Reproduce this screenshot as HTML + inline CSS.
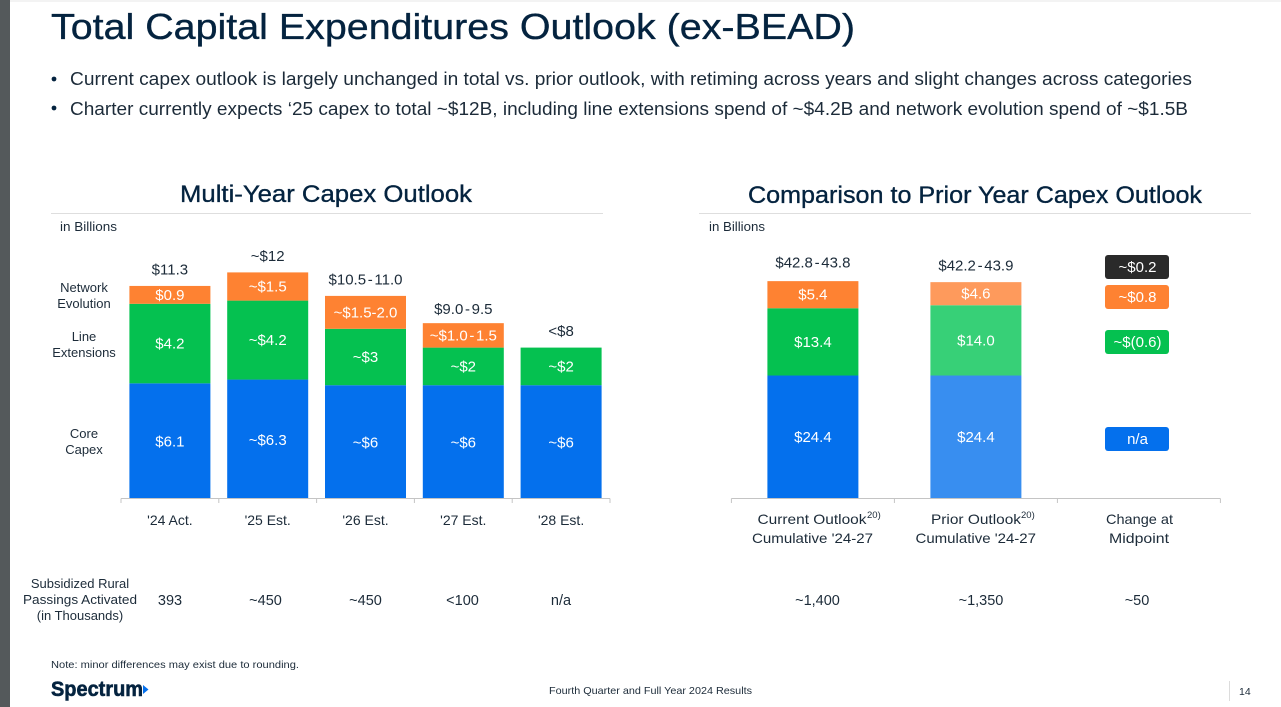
<!DOCTYPE html>
<html lang="en">
<head>
<meta charset="utf-8">
<title>Total Capital Expenditures Outlook (ex-BEAD)</title>
<style>
html,body{margin:0;padding:0;background:#fff;width:1281px;height:707px;overflow:hidden}
svg{display:block;font-family:"Liberation Sans",sans-serif}
text{fill:#1c2b39}
.navy{fill:#04233f;stroke:#04233f;stroke-width:.35px}
.logo{fill:#04233f;stroke:#04233f;stroke-width:.6px}
</style>
</head>
<body>
<svg id="slide" xmlns="http://www.w3.org/2000/svg" width="1281" height="707" viewBox="0 0 1281 707">
  <rect x="0" y="0" width="1281" height="2" fill="#f3f3f3"/>
  <rect x="0" y="0" width="10" height="707" fill="#54595b"/>

  <text class="navy" x="51" y="39" font-size="36" textLength="804" lengthAdjust="spacingAndGlyphs">Total Capital Expenditures Outlook (ex-BEAD)</text>

  <circle cx="54" cy="79" r="2.4" fill="#04233f"/>
  <text x="70" y="85" font-size="18" textLength="1122" lengthAdjust="spacingAndGlyphs">Current capex outlook is largely unchanged in total vs. prior outlook, with retiming across years and slight changes across categories</text>
  <circle cx="54" cy="108" r="2.4" fill="#04233f"/>
  <text x="70" y="115" font-size="18" textLength="1118" lengthAdjust="spacingAndGlyphs">Charter currently expects ‘25 capex to total ~$12B, including line extensions spend of ~$4.2B and network evolution spend of ~$1.5B</text>

  <text class="navy" x="180" y="202" font-size="24" textLength="292" lengthAdjust="spacingAndGlyphs">Multi-Year Capex Outlook</text>
  <rect x="51" y="213" width="552" height="1" fill="#dedede"/>
  <text x="60" y="231" font-size="13" textLength="57" lengthAdjust="spacingAndGlyphs">in Billions</text>

  <text class="navy" x="748" y="203" font-size="24" textLength="454" lengthAdjust="spacingAndGlyphs">Comparison to Prior Year Capex Outlook</text>
  <rect x="699" y="213" width="552" height="1" fill="#dedede"/>
  <text x="709" y="231" font-size="13" textLength="56" lengthAdjust="spacingAndGlyphs">in Billions</text>

  <g font-size="13" text-anchor="middle">
    <text x="84" y="292">Network</text>
    <text x="84" y="308">Evolution</text>
    <text x="84" y="341">Line</text>
    <text x="84" y="357">Extensions</text>
    <text x="84" y="438">Core</text>
    <text x="84" y="454">Capex</text>
  </g>

  <g id="left-chart"></g>
  <g id="right-chart"></g>

  <g font-size="14">
    <text x="757.5" y="524" textLength="109" lengthAdjust="spacingAndGlyphs">Current Outlook</text>
    <text x="867" y="518" font-size="9.5">20)</text>
    <text x="752" y="543" textLength="121" lengthAdjust="spacingAndGlyphs">Cumulative '24-27</text>
    <text x="931" y="524" textLength="90" lengthAdjust="spacingAndGlyphs">Prior Outlook</text>
    <text x="1021" y="518" font-size="9.5">20)</text>
    <text x="915.5" y="543" textLength="120.5" lengthAdjust="spacingAndGlyphs">Cumulative '24-27</text>
    <text x="1106" y="524" textLength="67" lengthAdjust="spacingAndGlyphs">Change at</text>
    <text x="1109" y="543" textLength="60" lengthAdjust="spacingAndGlyphs">Midpoint</text>
  </g>

  <g font-size="15" text-anchor="middle">
    <rect x="1105" y="255" width="64" height="24" rx="3" fill="#2a2a2a"/>
    <text x="1137.5" y="272" style="fill:#fff">~$0.2</text>
    <rect x="1105" y="285" width="64" height="24" rx="3" fill="#fe8232"/>
    <text x="1137.5" y="302" style="fill:#fff">~$0.8</text>
    <rect x="1105" y="330" width="64" height="24" rx="3" fill="#05c150"/>
    <text x="1137.5" y="347" style="fill:#fff">~$(0.6)</text>
    <rect x="1105" y="427" width="64" height="24" rx="3" fill="#0470ed"/>
    <text x="1137.5" y="444" style="fill:#fff">n/a</text>
  </g>

  <g font-size="13" text-anchor="middle">
    <text x="80" y="588">Subsidized Rural</text>
    <text x="80" y="604" textLength="114" lengthAdjust="spacingAndGlyphs">Passings Activated</text>
    <text x="80" y="620">(in Thousands)</text>
    <g font-size="14.5">
      <text x="170" y="605">393</text>
      <text x="265.5" y="605">~450</text>
      <text x="365.5" y="605">~450</text>
      <text x="462.5" y="605">&lt;100</text>
      <text x="561" y="605">n/a</text>
      <text x="817.5" y="605">~1,400</text>
      <text x="981" y="605">~1,350</text>
      <text x="1137" y="605">~50</text>
    </g>
  </g>

  <text x="51" y="668" font-size="10.5" textLength="248" lengthAdjust="spacingAndGlyphs">Note: minor differences may exist due to rounding.</text>
  <text class="logo" x="51" y="696" font-size="21.5" font-weight="700" textLength="92" lengthAdjust="spacingAndGlyphs">Spectrum</text>
  <polygon points="143,685 148.5,689.5 143,694" fill="#0470ed"/>
  <text x="549" y="694" font-size="10.5" textLength="203" lengthAdjust="spacingAndGlyphs">Fourth Quarter and Full Year 2024 Results</text>
  <rect x="1229" y="681" width="1" height="20" fill="#dcdcdc"/>
  <text x="1239" y="695" font-size="10.5">14</text>
</svg>

<script>
// Multi-year chart data
const leftCategories = ["'24 Act.", "'25 Est.", "'26 Est.", "'27 Est.", "'28 Est."];
const leftCore = [6.1, 6.3, 6, 6, 6];
const leftLine = [4.23, 4.2, 3, 2, 2];
const leftNetwork = [0.95, 1.5, 1.75, 1.3, 0];
const leftCoreLabels = ["$6.1", "~$6.3", "~$6", "~$6", "~$6"];
const leftLineLabels = ["$4.2", "~$4.2", "~$3", "~$2", "~$2"];
const leftNetworkLabels = ["$0.9", "~$1.5", "~$1.5-2.0", "~$1.0 - 1.5", ""];
const leftTotals = ["$11.3", "~$12", "$10.5 - 11.0", "$9.0 - 9.5", "<$8"];

// Prior-outlook comparison data
const rightCategories = ["current", "prior", "change"];
const rightCore = [24.4, 24.4];
const rightLine = [13.4, 14.0];
const rightNetwork = [5.4, 4.6];
const rightCoreLabels = ["$24.4", "$24.4"];
const rightLineLabels = ["$13.4", "$14.0"];
const rightNetworkLabels = ["$5.4", "$4.6"];
const rightTotals = ["$42.8 - 43.8", "$42.2 - 43.9"];

const SVG_NS = "http://www.w3.org/2000/svg";

function drawChart(cfg) {
  const bandWidth = (cfg.axisEnd - cfg.axisStart) / cfg.categories.length;
  const xCenter = i => cfg.axisStart + (i + 0.5) * bandWidth;
  const yPos = v => cfg.baseline - v * cfg.pxPerUnit;

  const axis = document.createElementNS(SVG_NS, "line");
  
  
  axis.setAttribute("x1", cfg.axisStart);
  axis.setAttribute("x2", cfg.axisEnd);
  axis.setAttribute("y1", cfg.baseline + 0.5);
  axis.setAttribute("y2", cfg.baseline + 0.5);
  axis.setAttribute("stroke", "#c4c4c4");
  cfg.root.appendChild(axis);

  for (let i = 0; i <= cfg.categories.length; i++) {
    const tick = document.createElementNS(SVG_NS, "line");
    
    
    const tx = cfg.axisStart + i * bandWidth;
    tick.setAttribute("x1", tx);
    tick.setAttribute("x2", tx);
    tick.setAttribute("y1", cfg.baseline + 0.5);
    tick.setAttribute("y2", cfg.baseline + 5);
    tick.setAttribute("stroke", "#c4c4c4");
    cfg.root.appendChild(tick);
  }

  cfg.core.forEach((_, i) => {
    let cumulative = 0;
    let topY = cfg.baseline;
    cfg.series.forEach(s => {
      const value = s.values[i];
      if (value <= 0) return;
      const y1 = yPos(cumulative);
      const y2 = yPos(cumulative + value);
      cumulative += value;
      topY = y2;

      const bar = document.createElementNS(SVG_NS, "rect");
      
      
      bar.setAttribute("x", xCenter(i) - cfg.barWidth / 2);
      bar.setAttribute("y", y2);
      bar.setAttribute("width", cfg.barWidth);
      bar.setAttribute("height", y1 - y2);
      bar.setAttribute("fill", (s.colors)[i]);
      cfg.root.appendChild(bar);

      const label = document.createElementNS(SVG_NS, "text");
      
      
      label.setAttribute("x", xCenter(i));
      label.setAttribute("y", (y1 + y2) / 2 + s.textOffset);
      label.setAttribute("text-anchor", "middle");
      label.setAttribute("font-size", "15");
      label.style.fill = "#fff";
      label.style.wordSpacing = "-2.5px";
      label.textContent = s.labels[i];
      cfg.root.appendChild(label);
    });

    const total = document.createElementNS(SVG_NS, "text");
    
    
    total.setAttribute("x", xCenter(i));
    total.setAttribute("y", topY - cfg.totalGap(i));
    total.setAttribute("text-anchor", "middle");
    total.setAttribute("font-size", "15");
    total.style.wordSpacing = "-2.5px";
    total.textContent = cfg.totals[i];
    cfg.root.appendChild(total);

    if (cfg.showCategories) {
      const cat = document.createElementNS(SVG_NS, "text");
      
      
      cat.setAttribute("x", xCenter(i));
      cat.setAttribute("y", cfg.baseline + 27);
      cat.setAttribute("text-anchor", "middle");
      cat.setAttribute("font-size", "14");
      cat.textContent = cfg.categories[i];
      cfg.root.appendChild(cat);
    }
  });
}

const orange5 = ["#fe8232", "#fe8232", "#fe8232", "#fe8232", "#fe8232"];
const green5 = ["#05c150", "#05c150", "#05c150", "#05c150", "#05c150"];
const blue5 = ["#0470ed", "#0470ed", "#0470ed", "#0470ed", "#0470ed"];

drawChart({
  root: document.getElementById("left-chart"),
  categories: leftCategories,
  core: leftCore,
  totals: leftTotals,
  totalGap: i => (i === 3 ? 9 : 11.5),
  showCategories: true,
  axisStart: 121,
  axisEnd: 610,
  baseline: 498,
  pxPerUnit: 18.8,
  barWidth: 81,
  series: [
    { name: "core-capex", values: leftCore, labels: leftCoreLabels, colors: blue5, textOffset: 6 },
    { name: "line-extensions", values: leftLine, labels: leftLineLabels, colors: green5, textOffset: 5 },
    { name: "network-evolution", values: leftNetwork, labels: leftNetworkLabels, colors: orange5, textOffset: 5 }
  ]
});

drawChart({
  root: document.getElementById("right-chart"),
  categories: rightCategories,
  core: rightCore,
  totals: rightTotals,
  totalGap: i => (i === 0 ? 13.5 : 11.5),
  showCategories: false,
  axisStart: 731.4,
  axisEnd: 1220.4,
  baseline: 498,
  pxPerUnit: 5.02,
  barWidth: 91,
  series: [
    { name: "core-capex", values: rightCore, labels: rightCoreLabels, colors: ["#0470ed", "#388ef0"], textOffset: 5 },
    { name: "line-extensions", values: rightLine, labels: rightLineLabels, colors: ["#05c150", "#37d077"], textOffset: 5 },
    { name: "network-evolution", values: rightNetwork, labels: rightNetworkLabels, colors: ["#fe8232", "#fe9a5c"], textOffset: 5 }
  ]
});
</script>
</body>
</html>
